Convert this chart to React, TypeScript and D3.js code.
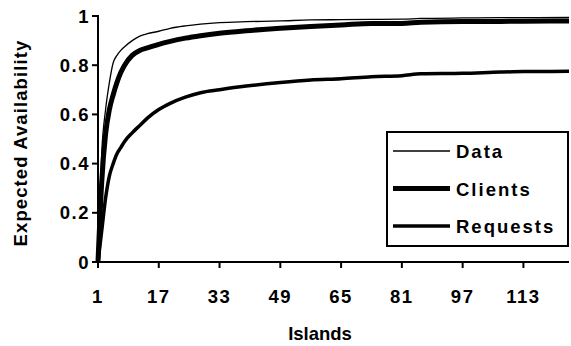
import React from 'react';
import * as d3 from 'd3';

// islands sampled along the x axis, and the availability read at each one
const islands = [1, 2, 3, 4, 5, 6, 7, 8, 10, 12, 14, 17, 20, 24, 28, 33, 40, 49, 57, 65, 73, 81, 86, 97, 107, 113, 125];
const dataValues = [0, 0.45, 0.62, 0.73, 0.81, 0.84, 0.86, 0.875, 0.9, 0.918, 0.928, 0.938, 0.95, 0.96, 0.967, 0.973, 0.977, 0.98, 0.984, 0.985, 0.986, 0.987, 0.99, 0.992, 0.993, 0.993, 0.994];
const clientValues = [0, 0.33, 0.52, 0.62, 0.68, 0.73, 0.77, 0.8, 0.84, 0.86, 0.87, 0.885, 0.897, 0.91, 0.92, 0.93, 0.94, 0.95, 0.957, 0.963, 0.97, 0.97, 0.975, 0.978, 0.978, 0.979, 0.98];
const requestValues = [0, 0.13, 0.26, 0.35, 0.4, 0.44, 0.465, 0.49, 0.525, 0.555, 0.585, 0.62, 0.645, 0.67, 0.688, 0.7, 0.715, 0.73, 0.74, 0.745, 0.753, 0.757, 0.765, 0.767, 0.772, 0.774, 0.775];

const xTicks = [1, 17, 33, 49, 65, 81, 97, 113];
const yTicks = [0, 0.2, 0.4, 0.6, 0.8, 1];

const seriesNames = ['Data', 'Clients', 'Requests'];
const seriesWidths = [1.3, 5, 3.5];

const font = '"Liberation Sans", Arial, sans-serif';

export default function App() {
  const x = d3.scaleLinear().domain([1, 125]).range([98, 569]);
  const y = d3.scaleLinear().domain([0, 1]).range([262, 16]);
  const series = [dataValues, clientValues, requestValues];

  const line = d3.line<number>()
    .x((d, i) => x(islands[i]))
    .y(d => y(d))
    .curve(d3.curveMonotoneX);

  return (
    <svg width={571} height={346} style={{position: 'absolute', left: 0, top: 0, background: '#fff'}}
      fontFamily={font} fontWeight="bold" fontSize={18.5}>
      {series.map((vals, k) => (
        <path key={k} d={line(vals) || ''} fill="none" stroke="#000" strokeWidth={seriesWidths[k]}
          strokeLinejoin="round" />
      ))}
      {/* axes */}
      <line x1={x(1)} x2={x(1)} y1={y(1) - 1} y2={y(0) + 1} stroke="#000" strokeWidth={2} />
      <line x1={x(1) - 1} x2={x.range()[1]} y1={y(0)} y2={y(0)} stroke="#000" strokeWidth={2} />
      {yTicks.map(t => (
        <g key={t}>
          <line x1={x(1) - 6} x2={x(1)} y1={y(t)} y2={y(t)} stroke="#000" strokeWidth={2} />
          <text x={90} y={y(t) + 6.5} textAnchor="end" letterSpacing={1.5}>{t}</text>
        </g>
      ))}
      {xTicks.map(t => (
        <g key={t}>
          <line x1={x(t)} x2={x(t)} y1={y(0)} y2={y(0) + 6} stroke="#000" strokeWidth={2} />
          <text x={x(t)} y={303} textAnchor="middle" letterSpacing={1.5}>{t}</text>
        </g>
      ))}
      <text x={320} y={340} textAnchor="middle">Islands</text>
      <text transform="translate(27,143) rotate(-90)" textAnchor="middle" letterSpacing={1.1}>Expected Availability</text>
      {/* legend */}
      <rect x={387} y={132} width={181} height={114} fill="#fff" stroke="#000" strokeWidth={2} />
      {seriesNames.map((name, k) => (
        <g key={name}>
          <line x1={393} x2={450} y1={151 + k * 37.5} y2={151 + k * 37.5} stroke="#000" strokeWidth={seriesWidths[k]} />
          <text x={456} y={158 + k * 37.5} letterSpacing={2}>{name}</text>
        </g>
      ))}
    </svg>
  );
}
